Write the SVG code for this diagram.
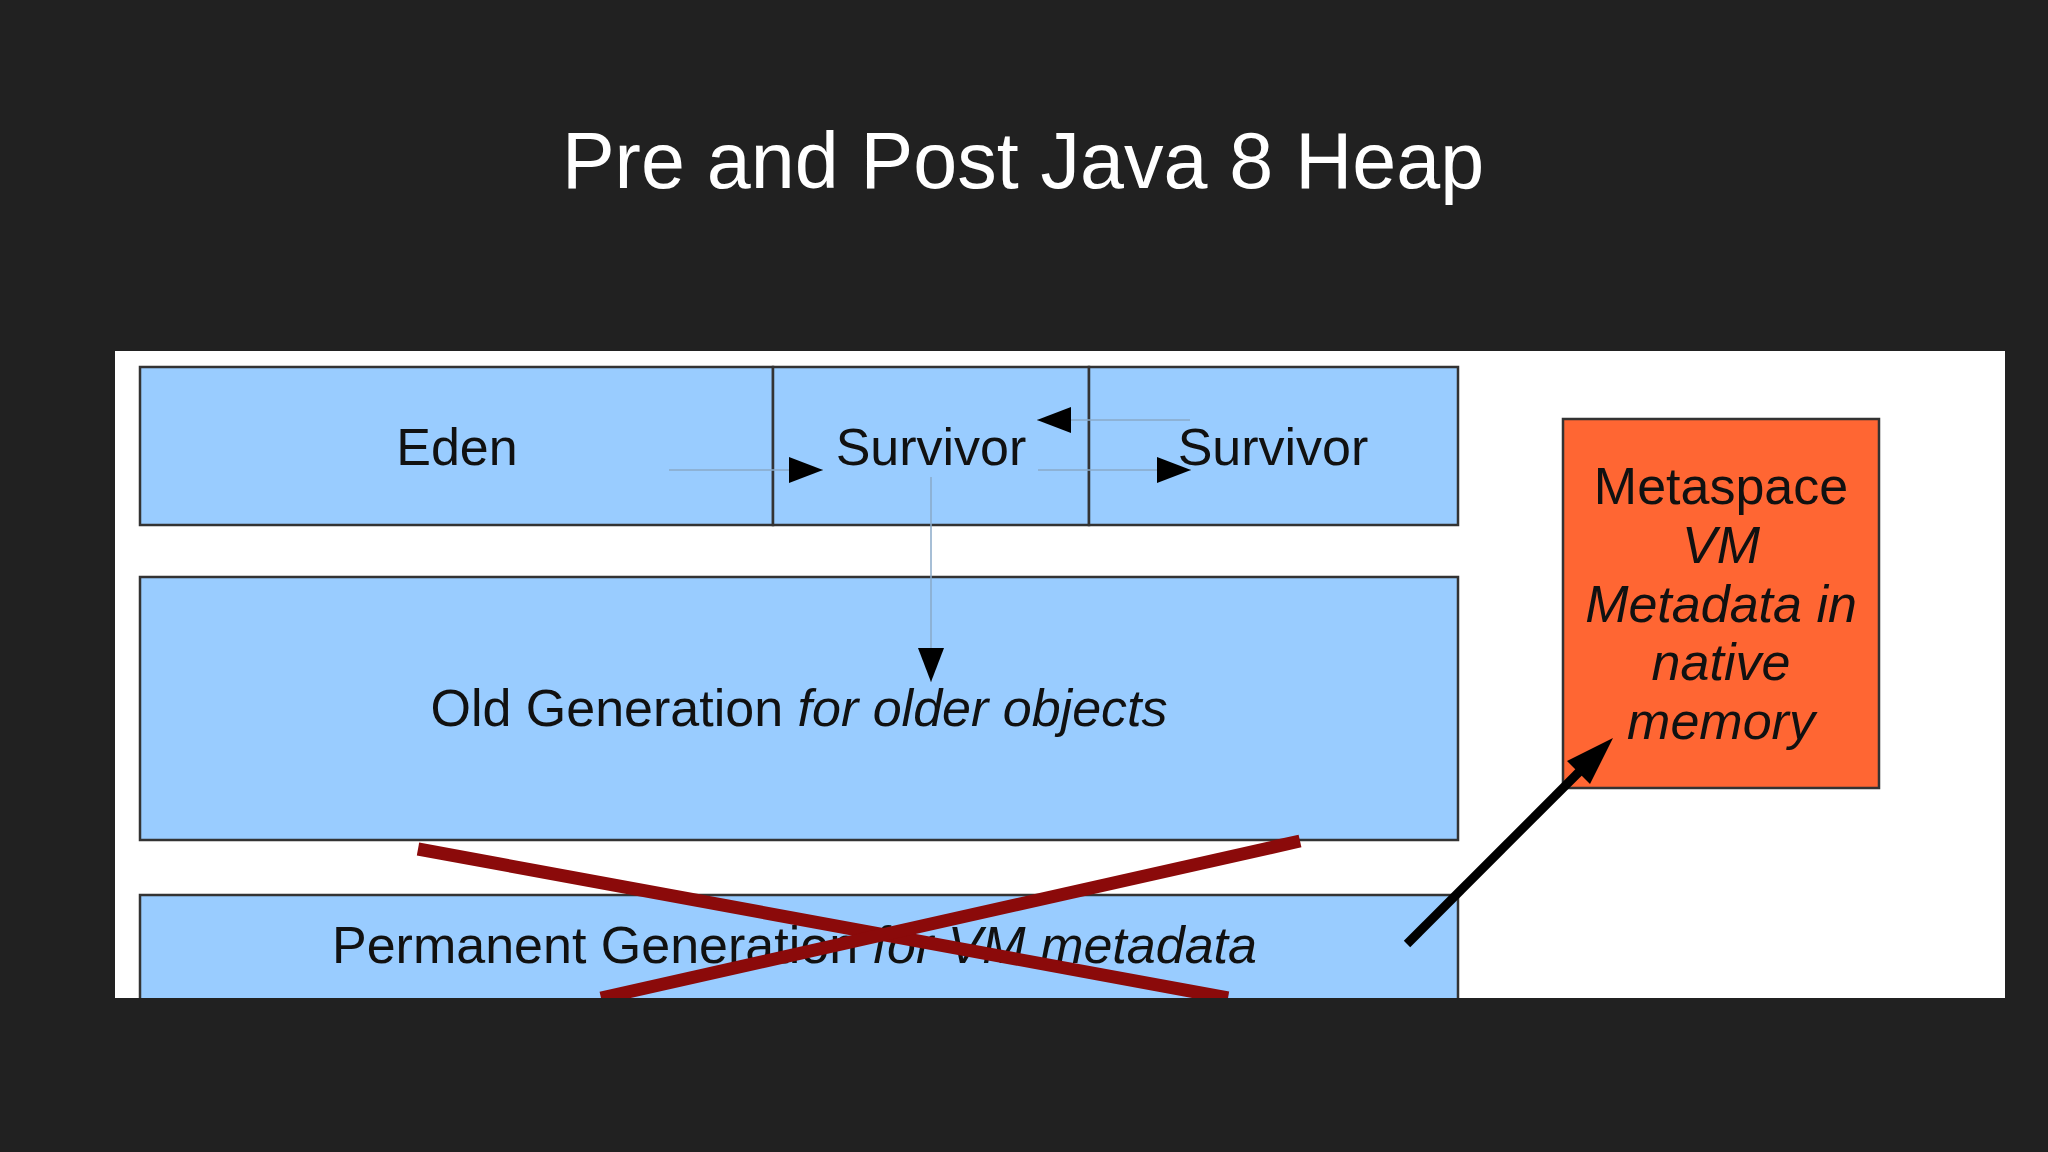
<svg xmlns="http://www.w3.org/2000/svg" width="2048" height="1152" viewBox="0 0 2048 1152">
<style>
.box{fill:#99ccff;stroke:#333;stroke-width:2.5}
.t{font-family:"Liberation Sans",Arial,sans-serif;font-size:52px;fill:#111}
.thin{stroke:#8aaac8;stroke-width:1.5;fill:none}
</style>
<defs>
<clipPath id="panel"><rect x="115" y="351" width="1890" height="647"/></clipPath>
<marker id="ah" markerWidth="34" markerHeight="26" refX="34" refY="13" orient="auto" markerUnits="userSpaceOnUse" viewBox="0 0 34 26"><path d="M0,0L34,13L0,26z" fill="#000"/></marker>
</defs>
<rect width="2048" height="1152" fill="#212121"/>
<text x="1023" y="188" text-anchor="middle" font-family="Liberation Sans,Arial,sans-serif" font-size="79" fill="#fff">Pre and Post Java 8 Heap</text>
<rect x="115" y="351" width="1890" height="647" fill="#fff"/>
<g clip-path="url(#panel)">
<g id="eden"><rect class="box" x="140" y="367" width="633" height="158"/><text class="t" x="457" y="465" text-anchor="middle">Eden</text></g>
<g id="survivor1"><rect class="box" x="773" y="367" width="316" height="158"/><text class="t" x="931" y="465" text-anchor="middle">Survivor</text></g>
<g id="survivor2"><rect class="box" x="1089" y="367" width="369" height="158"/><text class="t" x="1273" y="465" text-anchor="middle">Survivor</text></g>
<g id="old"><rect class="box" x="140" y="577" width="1318" height="263"/><text class="t" x="799" y="726" text-anchor="middle">Old Generation <tspan font-style="italic">for older objects</tspan></text></g>
<g id="perm"><rect class="box" x="140" y="895" width="1318" height="140"/><text class="t" x="332" y="963">Permanent Generation <tspan font-style="italic">for VM metadata</tspan></text></g>
<g id="metaspace"><rect x="1563" y="419" width="316" height="369" fill="#ff6633" stroke="#333" stroke-width="2.5"/>
<text class="t" text-anchor="middle" font-size="52"><tspan x="1721" y="504">Metaspace</tspan><tspan x="1721" y="563" font-style="italic">VM</tspan><tspan x="1721" y="622" font-style="italic">Metadata in</tspan><tspan x="1721" y="680" font-style="italic">native</tspan><tspan x="1721" y="739" font-style="italic">memory</tspan></text></g>
<g id="connectors">
<line class="thin" x1="669" y1="470" x2="823" y2="470" marker-end="url(#ah)"/>
<line class="thin" x1="1190" y1="420" x2="1037" y2="420" marker-end="url(#ah)"/>
<line class="thin" x1="1038" y1="470" x2="1191" y2="470" marker-end="url(#ah)"/>
<line class="thin" x1="931" y1="477" x2="931" y2="682" marker-end="url(#ah)"/>
<line x1="418" y1="849" x2="1228" y2="998" stroke="#8b0a0a" stroke-width="13"/>
<line x1="1300" y1="841" x2="601" y2="998" stroke="#8b0a0a" stroke-width="13"/>
<line x1="1407" y1="944" x2="1585" y2="766" stroke="#000" stroke-width="9"/>
<path d="M1613,738L1567,761L1590,784z" fill="#000"/>
</g>
</g>
</svg>
